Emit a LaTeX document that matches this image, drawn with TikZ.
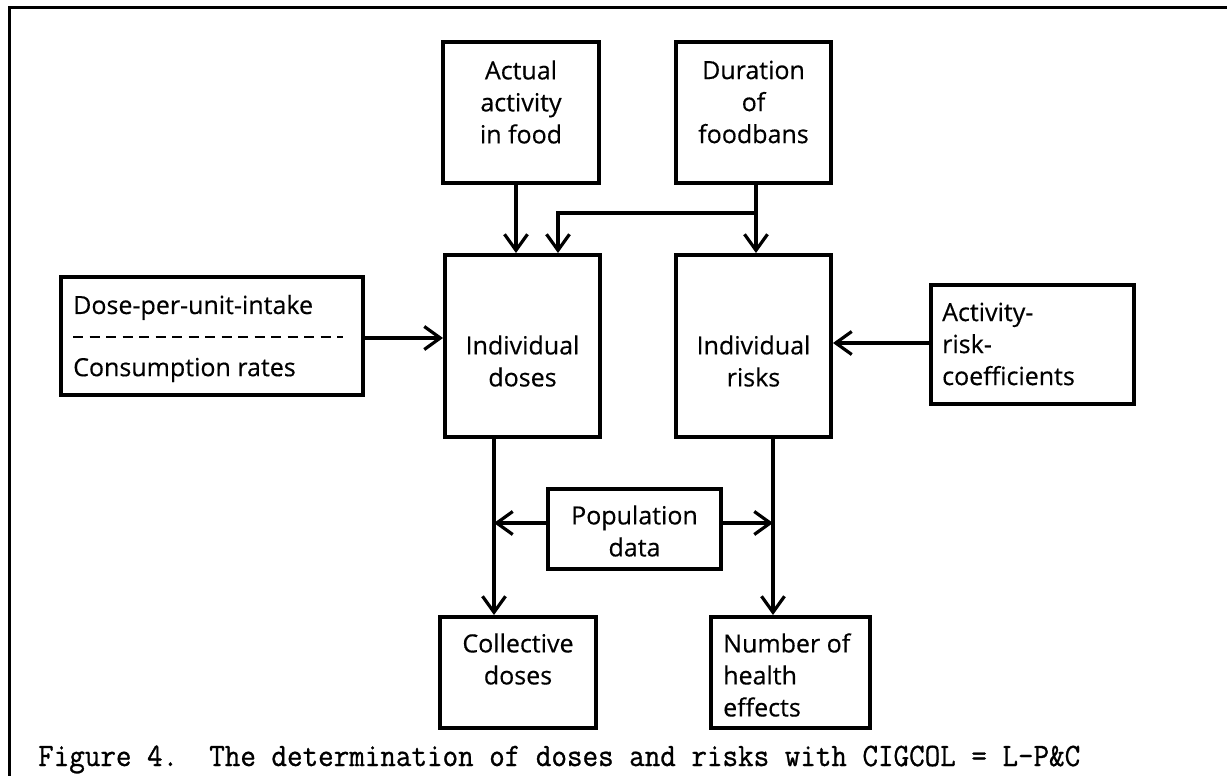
\documentclass[tikz,border=0pt]{standalone}
\usepackage{fontspec}
\setmainfont{Open Sans}[FakeBold=0.4]
\newfontfamily\capfont{Latin Modern Mono}[FakeBold=0.9]
\usetikzlibrary{arrows.meta,calc}
\begin{document}
\begin{tikzpicture}[x=1pt,y=-1pt,
  box/.style={draw, line width=4pt, inner sep=0pt},
  txt/.style={font=\fontsize{25}{32}\selectfont, align=center, inner sep=0pt},
  ltxt/.style={font=\fontsize{25}{32}\selectfont, align=left, inner sep=0pt, anchor=west},
  arr/.style={line width=3.2pt, -{Straight Barb[length=16pt,width=23pt,line width=3.2pt]}},
  ln/.style={line width=3pt}]
\useasboundingbox (0,0) rectangle (1227,776);
% frame
\draw[ln] (9,776) -- (9,8) -- (1227,8);
% boxes
\node[box, minimum width=156pt, minimum height=141pt] (actual) at (521,112.5) {};
\node[txt] (actualtxt) at (521,102) {Actual\\activity\\in food};
\node[box, minimum width=155pt, minimum height=141pt] (duration) at (753.5,112.5) {};
\node[txt] (durationtxt) at (753.5,102) {Duration\\of\\foodbans};
\node[box, minimum width=155pt, minimum height=182pt] (doses) at (522.5,346) {};
\node[txt] (dosestxt) at (522.5,361) {Individual\\doses};
\node[box, minimum width=155pt, minimum height=182pt] (risks) at (753.5,346) {};
\node[txt] (riskstxt) at (753.5,361) {Individual\\risks};
\node[box, minimum width=302pt, minimum height=118pt] (dpu) at (212,336) {};
\node[ltxt] (dputop) at (73,307.5) {Dose-per-unit-intake};
\node[ltxt] (dpubot) at (73,370) {Consumption rates};
\draw[line width=2pt, dash pattern=on 10pt off 6.5pt] (73,337) -- (343,337);
\node[box, minimum width=203pt, minimum height=119pt] (arc) at (1032.5,344.5) {};
\node[ltxt] (arctxt) at (942,344) {Activity-\\risk-\\coefficients};
\node[box, minimum width=173pt, minimum height=80pt] (pop) at (634.5,529) {};
\node[txt] (poptxt) at (634.5,531) {Population\\data};
\node[box, minimum width=156pt, minimum height=111pt] (coll) at (518,672.5) {};
\node[txt] (colltxt) at (518,659) {Collective\\doses};
\node[box, minimum width=159pt, minimum height=111pt] (num) at (790.5,672.5) {};
\node[ltxt] (numtxt) at (723,675) {Number of\\health\\effects};
% connectors
\draw[arr] ([xshift=-5pt]actual.south) -- ([xshift=-5pt]actual.south |- doses.north);
\draw[arr] ([xshift=2.5pt]duration.south) -- ([xshift=2.5pt]duration.south |- risks.north);
\coordinate (br) at (756,213);
\draw[arr] (br) -| ([xshift=35.5pt]doses.north);
\draw[arr] ([yshift=-2pt]dpu.east) -- ([yshift=-2pt]dpu.east -| doses.west);
\draw[arr] ([yshift=1.5pt]arc.west) -- ([yshift=1.5pt]arc.west -| risks.east);
\coordinate (dsrc) at ([xshift=-28.5pt]doses.south);
\coordinate (rsrc) at ([xshift=19.5pt]risks.south);
\draw[arr] (dsrc) -- (dsrc |- coll.north);
\draw[arr] (rsrc) -- (rsrc |- num.north);
\draw[arr] ([yshift=6pt]pop.west) -- ([yshift=6pt]pop.west -| dsrc);
\draw[arr] ([yshift=6pt]pop.east) -- ([yshift=6pt]pop.east -| rsrc);
% caption
\node[anchor=base west, inner sep=0pt, font=\capfont\fontsize{30.2}{34}\selectfont] (cap) at (38,766) {\scalebox{1}[1.08]{Figure 4.\ \ The determination of doses and risks with CIGCOL = L-P\&C}};
\end{tikzpicture}
\end{document}
